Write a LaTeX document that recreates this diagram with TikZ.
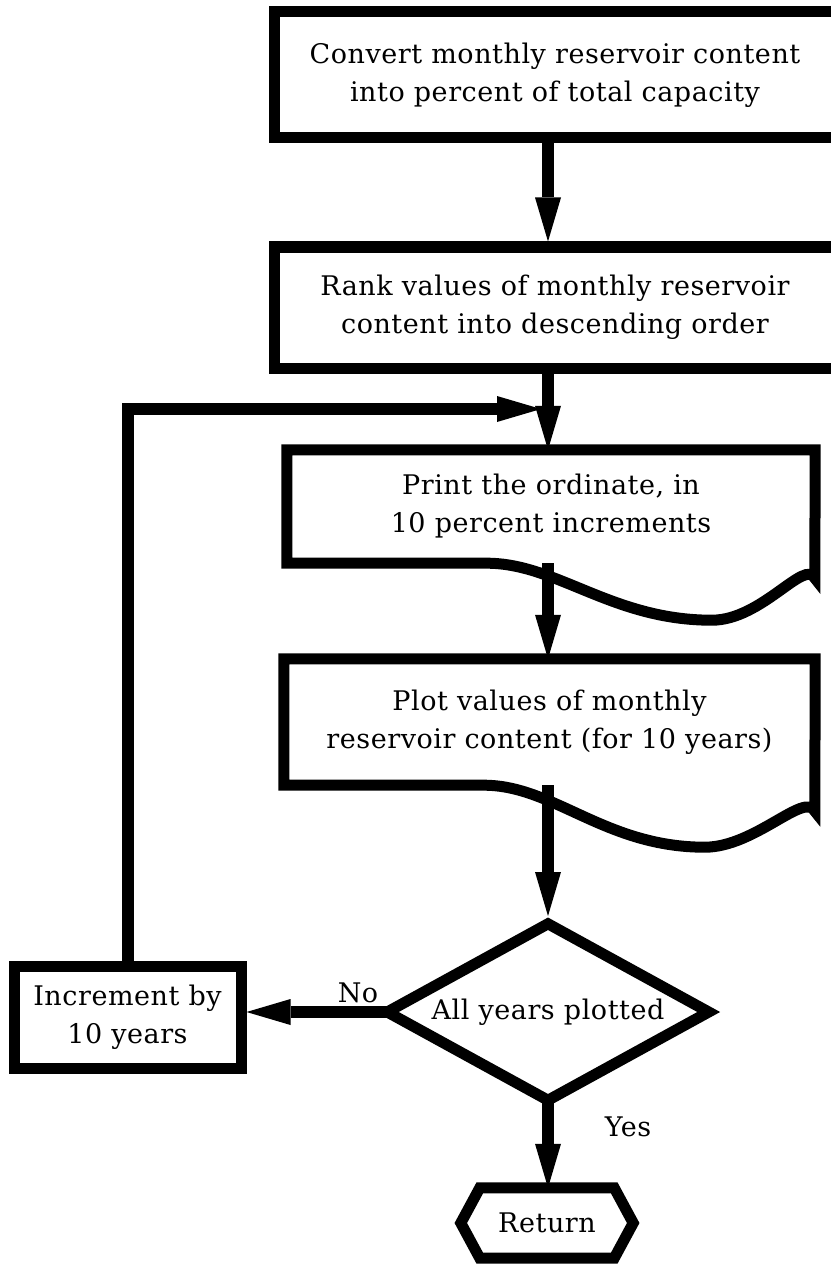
\documentclass[tikz,border=0pt]{standalone}
\usepackage{fontspec}
\setmainfont{DejaVu Serif}[LetterSpace=2]
\usetikzlibrary{arrows.meta,shapes.geometric,calc}
\begin{document}
\begin{tikzpicture}[x=1pt,y=-1pt,
  lw/.style={line width=11pt},
  tfont/.style={font=\fontsize{27}{38}\selectfont},
  box/.style={draw, lw, rectangle, align=center, inner sep=0pt, tfont},
  txt/.style={align=center, inner sep=0pt, tfont},
  lbl/.style={inner sep=0pt, tfont},
  arr/.style={line width=12pt, -{Triangle[length=44pt,width=26pt,line width=0pt]}}]
\fill[white] (0,0) rectangle (830,1265);
\useasboundingbox (0,0) rectangle (830,1265);

\node[box, minimum width=562pt, minimum height=126pt] (b1) at (555,75)
  {Convert monthly reservoir content\\into percent of total capacity};
\node[box, minimum width=562pt, minimum height=121pt] (b2) at (555,307.5)
  {Rank values of monthly reservoir\\content into descending order};

\node[txt, minimum width=528pt, minimum height=113pt] (pd) at (551,506.5)
  {Print the ordinate, in\\10 percent increments};
\draw[lw] (pd.south west) -- ++(200,0)
  .. controls +(70,0) and +(-100,0) .. ++(225,57)
  .. controls +(50,0) and +(-10,-20) .. ++(103,-42)
  -- (pd.north east) -- (pd.north west) -- cycle;

\node[txt, minimum width=531pt, minimum height=126pt] (pl) at (549.5,722)
  {Plot values of monthly\\reservoir content (for 10 years)};
\draw[lw] (pl.south west) -- ++(200,0)
  .. controls +(70,0) and +(-100,0) .. ++(221,62)
  .. controls +(50,0) and +(-10,-20) .. ++(110,-36)
  -- (pl.north east) -- (pl.north west) -- cycle;

\node[diamond, aspect=1.8, draw, lw, minimum width=326pt, minimum height=181pt, inner sep=0pt, tfont] (d) at (548,1012)
  {All years plotted};

\node[txt, minimum width=172pt, minimum height=70pt] (r) at (547,1223) {Return};
\draw[lw] (r.west) -- ($(r.north west)+(19,0)$) -- ($(r.north east)+(-19,0)$)
  -- (r.east) -- ($(r.south east)+(-19,0)$) -- ($(r.south west)+(19,0)$) -- cycle;

\node[box, minimum width=227pt, minimum height=102pt] (inc) at (127.5,1017)
  {Increment by\\10 years};

\coordinate (j) at (541,409);

\draw[arr] (b1.south -| d.north) -- (b2.north -| d.north);
\draw[arr] (b2.south -| d.north) -- (d.north |- pd.north);
\draw[arr] (pd.south -| d.north) -- (d.north |- pl.north);
\draw[arr] (pl.south -| d.north) -- (d.north);
\draw[arr] ($(d.south)+(0,-14)$) -- (d.south |- r.north);
\draw[arr] ($(d.west)+(14,0)$) -- (d.west -| inc.east);
\draw[arr] (inc.north) |- (j);

\node[lbl] (no) at (358,993) {No};
\node[lbl] (yes) at (628,1127) {Yes};
\end{tikzpicture}
\end{document}
